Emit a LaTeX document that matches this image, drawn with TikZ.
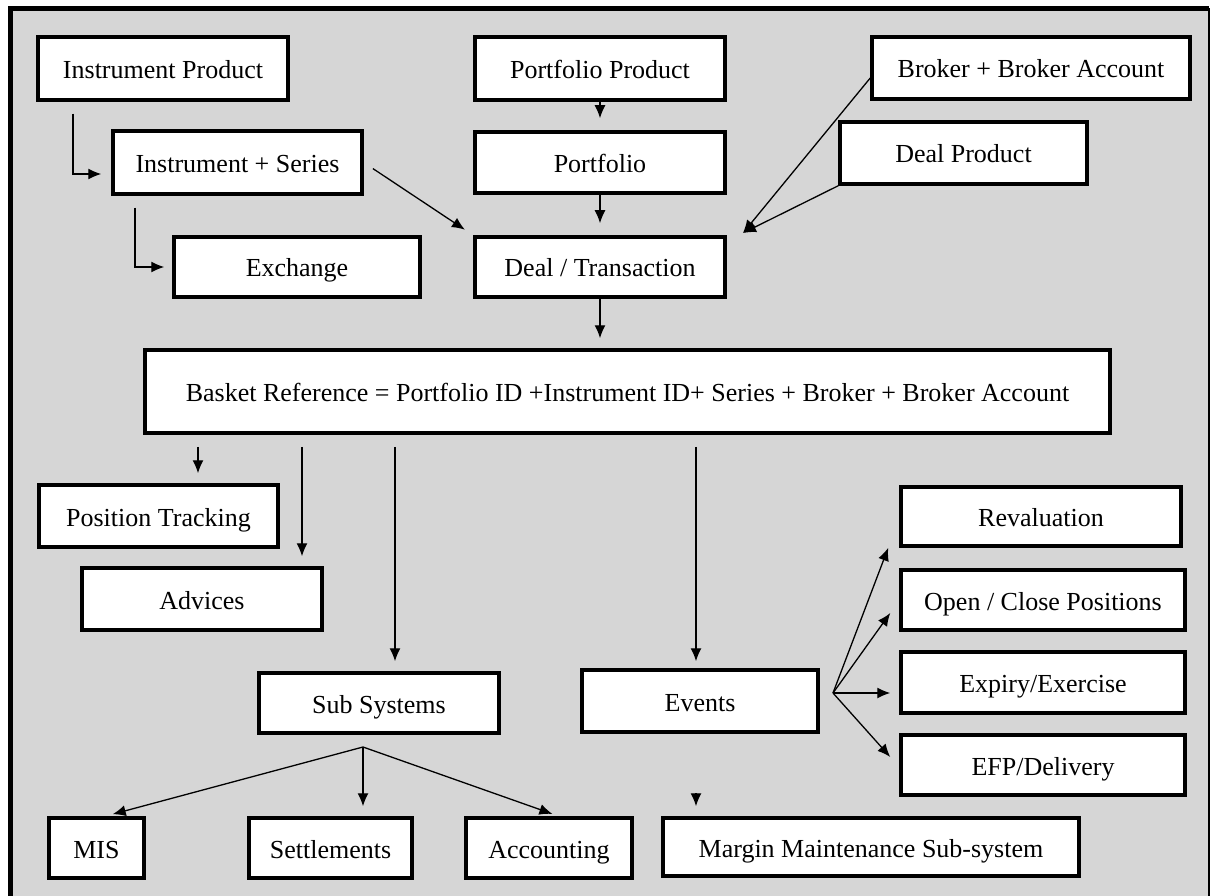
\documentclass[tikz,border=0pt]{standalone}
\usepackage{fontspec}
\setmainfont{Liberation Serif}
\usetikzlibrary{arrows.meta}
\definecolor{paper}{RGB}{214,214,214}
\begin{document}
\begin{tikzpicture}[x=1pt,y=-1pt,
    box/.style={draw,line width=3.5pt,fill=white,inner sep=0pt,
      text height=20pt,text depth=0pt,font=\fontsize{26}{30}\selectfont},
    arr/.style={line width=1.3pt,-{Latex[length=13pt,width=11pt]}}]
  \useasboundingbox (0,0) rectangle (1211,896);
  \fill[paper] (10,8) rectangle (1209,896);
  \draw[line width=5pt] (10.5,896) -- (10.5,8.5) -- (1209,8.5);
  \draw[line width=1.5pt] (1209,8.5) -- (1209,896);

  \node[box,minimum width=250pt,minimum height=63pt] (iprod) at (163,68.5) {Instrument Product};
  \node[box,minimum width=249pt,minimum height=63pt] (iser) at (237.5,162.5) {Instrument + Series};
  \node[box,minimum width=246pt,minimum height=60pt] (exch) at (297,267) {Exchange};
  \node[box,minimum width=250pt,minimum height=63pt] (pprod) at (600,68.5) {Portfolio Product};
  \node[box,minimum width=250pt,minimum height=61pt] (port) at (600,162.5) {Portfolio};
  \node[box,minimum width=250pt,minimum height=60pt] (deal) at (600,267) {Deal / Transaction};
  \node[box,minimum width=318pt,minimum height=62pt] (broker) at (1031,68) {Broker + Broker Account};
  \node[box,minimum width=247pt,minimum height=62pt] (dprod) at (963.5,153) {Deal Product};
  \node[box,minimum width=965pt,minimum height=83pt] (basket) at (627.5,391.5)
    {Basket Reference = Portfolio ID +Instrument ID+ Series + Broker + Broker Account};
  \node[box,minimum width=239pt,minimum height=62pt] (pos) at (158.5,516) {Position Tracking};
  \node[box,minimum width=240pt,minimum height=62pt] (adv) at (202,599) {Advices};
  \node[box,minimum width=240pt,minimum height=60pt] (subs) at (379,703) {Sub Systems};
  \node[box,minimum width=236pt,minimum height=62pt] (events) at (700,701) {Events};
  \node[box,minimum width=280pt,minimum height=59pt] (reval) at (1041,516.5) {Revaluation};
  \node[box,minimum width=284pt,minimum height=60pt] (openc) at (1043,600) {Open / Close Positions};
  \node[box,minimum width=284pt,minimum height=61pt] (expiry) at (1043,682.5) {Expiry/Exercise};
  \node[box,minimum width=284pt,minimum height=60pt] (efp) at (1043,765) {EFP/Delivery};
  \node[box,minimum width=95pt,minimum height=60pt] (mis) at (96.5,848) {MIS};
  \node[box,minimum width=163pt,minimum height=60pt] (settle) at (330.5,848) {Settlements};
  \node[box,minimum width=166pt,minimum height=60pt] (acct) at (549,848) {Accounting};
  \node[box,minimum width=416pt,minimum height=58pt] (margin) at (871,847) {Margin Maintenance Sub-system};

  \coordinate (dealin) at (743,233);
  \coordinate (subfork) at (363,747);
  \coordinate (evfork) at (833,693);

  \draw[arr,shorten <=12pt,shorten >=10pt] (iprod.south -| 73,0) |- ([yshift=-11.5pt]iser.west);
  \draw[arr,shorten <=12pt,shorten >=8pt] (iser.south -| 135,0) |- (exch.west);
  \draw[arr,shorten <=11pt,shorten >=10pt] (iser.east) -- (deal.north west);
  \draw[arr,shorten >=12pt] (pprod.south) -- (port.north);
  \draw[arr,shorten >=12pt] (port.south) -- (deal.north);
  \draw[arr] ([yshift=-10pt]broker.west) -- (dealin);
  \draw[arr] (dprod.south west) -- (dealin);
  \draw[arr,shorten >=10pt] (deal.south) -- (deal.south |- basket.north);

  \draw[arr,shorten <=12pt,shorten >=10pt] (basket.south -| 198,0) -- (pos.north -| 198,0);
  \draw[arr,shorten <=12pt,shorten >=10pt] (basket.south -| 302,0) -- (adv.north -| 302,0);
  \draw[arr,shorten <=12pt,shorten >=10pt] (basket.south -| 395,0) -- (subs.north -| 395,0);
  \draw[arr,shorten <=12pt,shorten >=7pt] (basket.south -| 696,0) -- (events.north -| 696,0);

  \draw[arr,shorten >=8pt] (subfork) -- (mis.north -| 105,0);
  \draw[arr,shorten >=10pt] (subfork) -- (subfork |- settle.north);
  \draw[arr,shorten >=7pt] (subfork) -- (acct.north -| 559,0);
  \draw[arr] ([yshift=23pt]margin.north -| 696,0) -- ([yshift=10pt]margin.north -| 696,0);

  \draw[arr] (evfork) -- ([xshift=-11pt]reval.south west);
  \draw[arr] (evfork) -- ([xshift=-9pt,yshift=-13pt]openc.west);
  \draw[arr] (evfork) -- ([xshift=-9pt]evfork -| expiry.west);
  \draw[arr] (evfork) -- ([xshift=-9pt,yshift=8pt]efp.west);
\end{tikzpicture}
\end{document}
